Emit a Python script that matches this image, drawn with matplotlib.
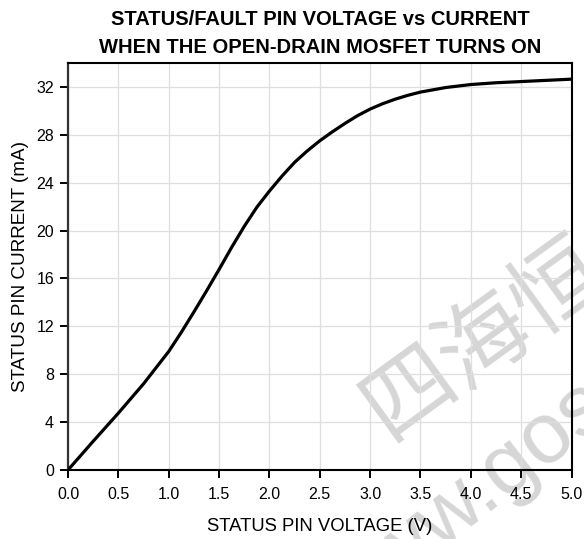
import numpy as np
import matplotlib
matplotlib.use("Agg")
import matplotlib.pyplot as plt

plt.rcParams['font.family'] = ['Liberation Sans', 'DejaVu Sans']

# curve
voltage = [0.0, 0.25, 0.5, 0.75, 1.0, 1.125, 1.25, 1.375, 1.5, 1.625, 1.75,
           1.875, 2.0, 2.125, 2.25, 2.375, 2.5, 2.625, 2.75, 2.875, 3.0,
           3.125, 3.25, 3.375, 3.5, 3.75, 4.0, 4.25, 4.5, 4.75, 5.0]
current = [0.0, 2.4, 4.75, 7.2, 9.9, 11.5, 13.2, 14.95, 16.75, 18.6, 20.35,
           21.95, 23.3, 24.55, 25.7, 26.65, 27.5, 28.25, 28.95, 29.6, 30.15,
           30.6, 30.98, 31.3, 31.57, 31.95, 32.2, 32.35, 32.45, 32.55, 32.65]

x_ticks = [0.0, 0.5, 1.0, 1.5, 2.0, 2.5, 3.0, 3.5, 4.0, 4.5, 5.0]
y_ticks = [0, 4, 8, 12, 16, 20, 24, 28, 32]

title_1 = "STATUS/FAULT PIN VOLTAGE vs CURRENT"
title_2 = "WHEN THE OPEN-DRAIN MOSFET TURNS ON"

fig = plt.figure(figsize=(5.84, 5.39), dpi=100)
ax = fig.add_axes([68 / 584, 1 - 470 / 539, 503.5 / 584, 407 / 539])
ax.set_facecolor('none')   # let the watermark show through

ax.plot(voltage, current, color='black', lw=2.3, solid_joinstyle='round',
        solid_capstyle='round', zorder=3)

ax.set_xlim(0, 5)
ax.set_ylim(0, 34)
ax.set_xticks(x_ticks)
ax.set_xticklabels([f"{v:.1f}" for v in x_ticks])
ax.set_yticks(y_ticks)
ax.grid(True, color='#dedede', lw=0.9)
ax.set_axisbelow(True)

for side in ['top', 'right', 'bottom']:
    ax.spines[side].set_linewidth(1.5)
    ax.spines[side].set_color('black')
ax.spines['left'].set_linewidth(1.6)
ax.spines['left'].set_color('#333333')

ax.tick_params(direction='out', length=6, width=1.4, labelsize=11.5,
               colors='black')
ax.tick_params(axis='x', pad=6.5)
ax.tick_params(axis='y', pad=4)

ax.set_xlabel("STATUS PIN VOLTAGE (V)", fontsize=13.3, labelpad=11)
ax.set_ylabel("STATUS PIN CURRENT (mA)", fontsize=13.6, labelpad=5.5)

fig.text(320 / 584, 1 - 25 / 539, title_1, ha='center', va='baseline',
         fontsize=14.5, fontweight='bold')
fig.text(320 / 584, 1 - 53 / 539, title_2, ha='center', va='baseline',
         fontsize=14.5, fontweight='bold')

# watermark, drawn under the axes
fig.text(485 / 584, 1 - 338 / 539, "四海恒", ha='center', va='center',
         rotation=36, rotation_mode='anchor', fontsize=66, color='#d6d6d6',
         family=['Noto Sans CJK SC', 'DejaVu Sans'], zorder=-1)
fig.text(342 / 584, 1 - 628 / 539, "www.gos", ha='left', va='baseline',
         rotation=38, rotation_mode='anchor', fontsize=62, color='#d6d6d6',
         zorder=-1)

fig.savefig("out.png", dpi=100)
